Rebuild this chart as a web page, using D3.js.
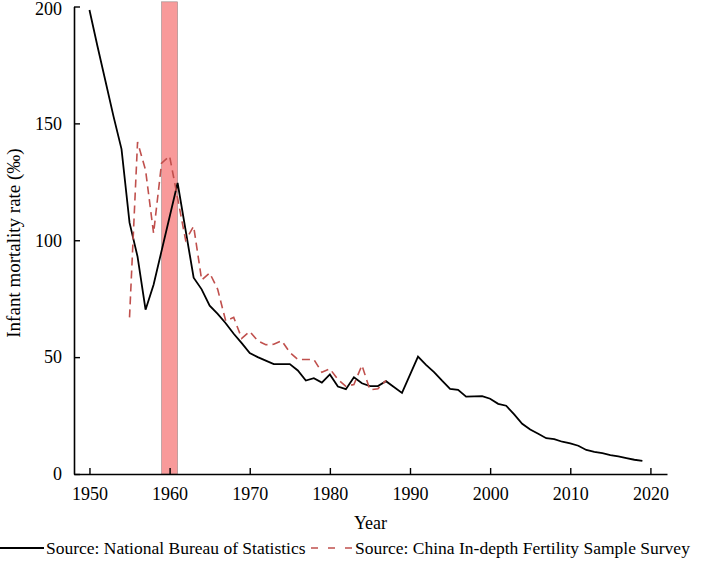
<!DOCTYPE html>
<html>
<head>
<meta charset="utf-8">
<script src="https://cdn.jsdelivr.net/npm/d3@7"></script>
<style>
  body { margin: 0; background: #fff; }
</style>
</head>
<body>
<div id="chart"></div>
<script>
// --- National Bureau of Statistics series ---
const nbsYears = [1950, 1951, 1952, 1953, 1954, 1955, 1956, 1957, 1958, 1961, 1963, 1964, 1965, 1966, 1967, 1968, 1969, 1970,
  1971, 1972, 1973, 1974, 1975, 1976, 1977, 1978, 1979, 1980, 1981, 1982, 1983, 1984, 1985, 1986, 1987, 1989,
  1991, 1992, 1993, 1994, 1995, 1996, 1997, 1998, 1999, 2000, 2001, 2002, 2003, 2004, 2005, 2006, 2007, 2008, 2009,
  2010, 2011, 2012, 2013, 2014, 2015, 2016, 2017, 2018, 2019];
const nbsValues = [198.5, 183, 168, 153, 139, 107.5, 93, 70.3, 81, 124.5, 84, 79, 72, 68.5, 64.5, 60, 56, 51.7,
  50, 48.5, 47, 47, 47, 44.3, 40, 41, 39.1, 42.6, 37.4, 36.3, 41.4, 38.8, 37.6, 37.6, 39.7, 34.7,
  50.2, 46.7, 43.6, 39.9, 36.4, 36, 33.1, 33.2, 33.3, 32.2, 30, 29.2, 25.5, 21.5, 19, 17.2, 15.3, 14.9, 13.8,
  13.1, 12.1, 10.3, 9.5, 8.9, 8.1, 7.5, 6.8, 6.1, 5.6];

// --- China In-depth Fertility Sample Survey series ---
const surveyYears = [1955, 1956, 1957, 1958, 1959, 1960, 1961, 1962, 1963, 1964, 1965, 1966, 1967, 1968, 1969, 1970,
  1971, 1972, 1973, 1974, 1975, 1976, 1977, 1978, 1979, 1980, 1981, 1982, 1983, 1984, 1985, 1986, 1987];
const surveyValues = [67, 142, 130, 103, 133, 136, 118, 100, 106, 83, 86, 79, 65.5, 67, 58, 61,
  57, 55.3, 55.5, 57, 52, 49, 49, 49, 43.5, 45, 40.5, 37.5, 38.3, 46.5, 36, 36.5, 40];

// --- Shaded famine years ---
const bandYears = [1959, 1961];
const bandTop = 202;

const xTicks = [1950, 1960, 1970, 1980, 1990, 2000, 2010, 2020];
const yTicks = [0, 50, 100, 150, 200];

const legendLabels = ["Source: National Bureau of Statistics", "Source: China In-depth Fertility Sample Survey"];

const FONT = "'Liberation Serif', 'Times New Roman', serif";
const FS = "17.5px";

// --- Setup SVG ---
const width = 707, height = 564;
const svg = d3.select("#chart").append("svg")
  .attr("width", width)
  .attr("height", height);

const x = d3.scaleLinear().domain([1948.07, 2022.07]).range([74, 667]);
const y = d3.scaleLinear().domain([0, 200]).range([474, 6.5]);

// --- Band ---
svg.append("rect")
  .attr("x", x(bandYears[0]))
  .attr("y", y(bandTop))
  .attr("width", x(bandYears[1]) - x(bandYears[0]))
  .attr("height", y(0) - y(bandTop))
  .attr("fill", "#f89a9a")
  .attr("stroke", "#9a8a8a")
  .attr("stroke-width", 0.6);

// --- Axes ---
const xAxis = svg.append("g")
  .attr("transform", `translate(0,${y(0)})`)
  .call(d3.axisBottom(x).tickValues(xTicks).tickFormat(d3.format("d")).tickSizeInner(-6).tickSizeOuter(0).tickPadding(13));
const yAxis = svg.append("g")
  .attr("transform", `translate(${x.range()[0]},0)`)
  .call(d3.axisLeft(y).tickValues(yTicks).tickSizeInner(-6).tickSizeOuter(0).tickPadding(12));

[xAxis, yAxis].forEach(g => {
  g.select(".domain").attr("stroke", "#000").attr("stroke-width", 1.6);
  g.selectAll(".tick line").attr("stroke", "#000").attr("stroke-width", 1.4);
  g.selectAll(".tick text").style("font-size", "18px").style("font-family", FONT).attr("fill", "#000");
});
// keep the top label inside the picture
yAxis.selectAll(".tick text").filter(d => d === 200).attr("dy", "0.42em");

// --- Lines ---
const line = d3.line().x(d => x(d[0])).y(d => y(d[1]));

svg.append("path")
  .datum(nbsYears.map((yr, i) => [yr, nbsValues[i]]))
  .attr("d", line)
  .attr("fill", "none")
  .attr("stroke", "#000")
  .attr("stroke-width", 1.8);

svg.append("path")
  .datum(surveyYears.map((yr, i) => [yr, surveyValues[i]]))
  .attr("d", line)
  .attr("fill", "none")
  .attr("stroke", "#c0504d")
  .attr("stroke-width", 1.6)
  .attr("stroke-dasharray", "8,5");

// --- Axis titles ---
svg.append("text")
  .attr("x", (x.range()[0] + x.range()[1]) / 2)
  .attr("y", 529)
  .attr("text-anchor", "middle")
  .style("font-family", FONT).style("font-size", "18px")
  .text("Year");

svg.append("text")
  .attr("transform", `translate(20,243) rotate(-90)`)
  .attr("text-anchor", "middle")
  .style("font-family", FONT).style("font-size", "19px")
  .text("Infant mortality rate (‰)");

// --- Legend ---
const legY = 548;
svg.append("line")
  .attr("x1", 0).attr("x2", 44)
  .attr("y1", legY).attr("y2", legY)
  .attr("stroke", "#000").attr("stroke-width", 1.8);
svg.append("text")
  .attr("x", 46).attr("y", legY + 6)
  .style("font-family", FONT).style("font-size", FS)
  .text(legendLabels[0]);
svg.append("line")
  .attr("x1", 311).attr("x2", 352)
  .attr("y1", legY).attr("y2", legY)
  .attr("stroke", "#c0504d").attr("stroke-width", 1.6)
  .attr("stroke-dasharray", "7,10");
svg.append("text")
  .attr("x", 355).attr("y", legY + 6)
  .style("font-family", FONT).style("font-size", FS)
  .text(legendLabels[1]);
</script>
</body>
</html>
